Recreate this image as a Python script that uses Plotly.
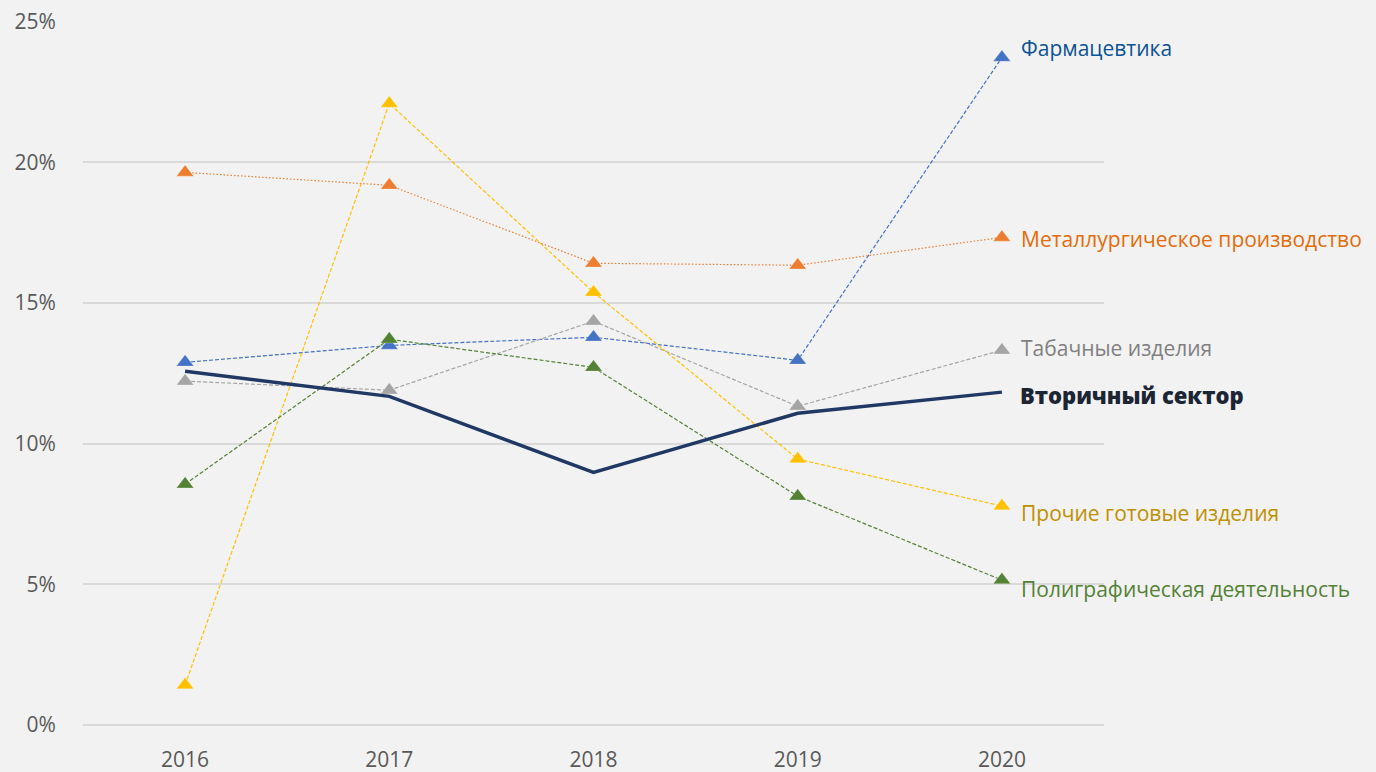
import plotly.graph_objects as go

years = ["2016", "2017", "2018", "2019", "2020"]

pharma = [12.89, 13.49, 13.78, 12.96, 23.72]
metal = [19.64, 19.18, 16.41, 16.34, 17.33]
tobacco = [12.22, 11.90, 14.35, 11.33, 13.32]
secondary = [12.57, 11.68, 8.98, 11.08, 11.83]
other = [1.42, 22.09, 15.38, 9.45, 7.78]
printing = [8.56, 13.71, 12.71, 8.13, 5.15]

names = ["Фармацевтика", "Металлургическое производство", "Табачные изделия",
         "Вторичный сектор", "Прочие готовые изделия", "Полиграфическая деятельность"]

y_ticks = [0, 5, 10, 15, 20, 25]
y_tick_labels = ["0%", "5%", "10%", "15%", "20%", "25%"]

FONT = "Open Sans"

fig = go.Figure()

series = [
    (pharma, "#4472C4", "4px,2px", names[0]),
    (metal, "#ED7D31", "1.5px,2px", names[1]),
    (tobacco, "#A5A5A5", "4px,2px", names[2]),
    (other, "#FFC000", "4px,2px", names[4]),
    (printing, "#548235", "4px,2px", names[5]),
]
for vals, color, dash, name in series:
    fig.add_trace(go.Scatter(
        x=years, y=vals, mode="lines+markers", name=name,
        line=dict(color=color, width=1.2, dash=dash),
        marker=dict(symbol="triangle-up", size=15, color=color,
                    line=dict(color="rgba(255,255,255,0.5)", width=0.5)),
        showlegend=False,
    ))

fig.add_trace(go.Scatter(
    x=years, y=secondary, mode="lines", name=names[3],
    line=dict(color="#203864", width=3.5),
    showlegend=False,
))

labels = [
    (pharma, names[0], "#0B5394", 10, False),
    (metal, names[1], "#E46C0A", -2, False),
    (tobacco, names[2], "#808080", 2, False),
    (secondary, names[3], "#1C2533", -3, True),
    (other, names[4], "#BF9000", -7, False),
    (printing, names[5], "#538135", -9, False),
]
annotations = []
for vals, text, color, ys, bold in labels:
    annotations.append(dict(
        x=4, y=vals[-1], text=text,
        showarrow=False, xref="x", yref="y",
        xanchor="left", yanchor="middle", xshift=17 if not bold else 16, yshift=ys,
        font=dict(family=FONT, size=22 if bold else 21, color=color,
                  weight=800 if bold else 400),
    ))

fig.update_layout(
    width=1376, height=772,
    margin=dict(l=83, r=272, t=21, b=47, autoexpand=False),
    paper_bgcolor="#F2F2F2", plot_bgcolor="#F2F2F2",
    font=dict(family=FONT, size=21, color="#595959"),
    annotations=annotations,
    xaxis=dict(type="category", range=[-0.5, 4.5], showgrid=False,
               showline=False, zeroline=False, automargin=False,
               ticks="outside", ticklen=16, tickcolor="rgba(0,0,0,0)",
               tickfont=dict(family=FONT, size=21, color="#595959")),
    yaxis=dict(range=[0, 25.02], tickvals=y_ticks, ticktext=y_tick_labels,
               showgrid=True, gridcolor="#D9D9D9", gridwidth=1.5,
               zeroline=True, zerolinecolor="#D9D9D9", zerolinewidth=1.5,
               showline=False, automargin=False,
               ticks="outside", ticklen=22, tickcolor="rgba(0,0,0,0)",
               tickfont=dict(family=FONT, size=21, color="#595959")),
)

fig.write_html("out.html", config={"displayModeBar": False},
               post_script="document.body.style.margin='0';document.body.style.overflow='hidden';")
